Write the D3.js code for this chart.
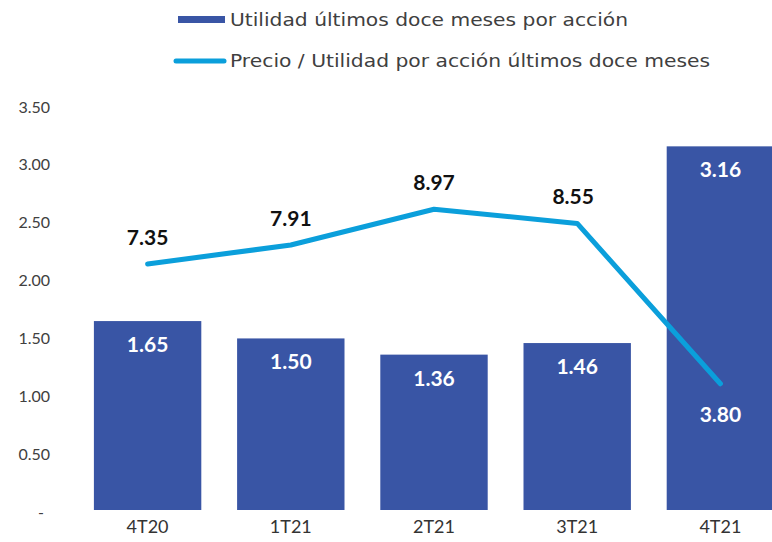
<!DOCTYPE html>
<html>
<head>
<meta charset="utf-8">
<script src="https://cdn.jsdelivr.net/npm/d3@7"></script>
<style>
  body { margin: 0; background: #fff; }
  svg { font-family: Lato, "Open Sans", sans-serif; display: block; }
</style>
</head>
<body>
<div id="chart"></div>
<script>
// data
var quarters = ["4T20", "1T21", "2T21", "3T21", "4T21"];
var utilidad = [1.65, 1.50, 1.36, 1.46, 3.16];
var precioUtilidad = [7.35, 7.91, 8.97, 8.55, 3.80];
var yTicks = [0, 0.5, 1, 1.5, 2, 2.5, 3, 3.5];
var legendLabels = ["Utilidad últimos doce meses por acción",
                    "Precio / Utilidad por acción últimos doce meses"];

var width = 772, height = 542;
var barColor = "#3955a5", lineColor = "#0b9fdb";

var svg = d3.select("#chart").append("svg")
    .attr("width", width)
    .attr("height", height);

var x = d3.scaleBand()
    .domain(quarters)
    .range([76, 792])
    .paddingInner(0.25)
    .paddingOuter(0.125);

var y = d3.scaleLinear().domain([0, 3.5]).range([512, 107]);
// secondary axis is hidden, same pixel range
var y2 = d3.scaleLinear().domain([0, 12]).range([512, 107]);

// left axis, no line, no ticks
var yAxis = d3.axisLeft(y)
    .tickValues(yTicks)
    .tickSize(0)
    .tickPadding(0)
    .tickFormat(function(d) { return d === 0 ? "-" : d3.format(".2f")(d); });

var gy = svg.append("g")
    .attr("transform", "translate(50,0)")
    .call(yAxis);
gy.select(".domain").remove();
gy.selectAll("text")
    .attr("font-size", 16)
    .attr("fill", "#404040")
    .attr("font-family", "Lato, sans-serif")
    .attr("dx", function(d) { return d === 0 ? -6 : 0; });

// bars
svg.selectAll("rect.bar")
    .data(quarters)
    .enter().append("rect")
    .attr("class", "bar")
    .attr("x", function(d) { return x(d); })
    .attr("y", function(d, i) { return y(utilidad[i]); })
    .attr("width", x.bandwidth())
    .attr("height", function(d, i) { return y(0) - y(utilidad[i]) - 2; })
    .attr("fill", barColor);

// bar labels
svg.selectAll("text.barLabel")
    .data(quarters)
    .enter().append("text")
    .attr("class", "barLabel")
    .attr("x", function(d) { return x(d) + x.bandwidth() / 2; })
    .attr("y", function(d, i) { return y(utilidad[i]) + 31; })
    .attr("text-anchor", "middle")
    .attr("font-size", 21)
    .attr("font-weight", "bold")
    .attr("fill", "#fff")
    .text(function(d, i) { return utilidad[i].toFixed(2); });

// line
var line = d3.line()
    .x(function(d, i) { return x(quarters[i]) + x.bandwidth() / 2; })
    .y(function(d) { return y2(d); });

svg.append("path")
    .datum(precioUtilidad)
    .attr("d", line)
    .attr("fill", "none")
    .attr("stroke", lineColor)
    .attr("stroke-width", 5)
    .attr("stroke-linecap", "round")
    .attr("stroke-linejoin", "round");

// line labels - last one sits below the point, in white over the bar
svg.selectAll("text.lineLabel")
    .data(precioUtilidad)
    .enter().append("text")
    .attr("class", "lineLabel")
    .attr("x", function(d, i) { return x(quarters[i]) + x.bandwidth() / 2 - (i == 3 ? 4 : 0); })
    .attr("y", function(d, i) { return i == 4 ? y2(d) + 38 : y2(d) - 19; })
    .attr("text-anchor", "middle")
    .attr("font-size", 21)
    .attr("font-weight", "bold")
    .attr("fill", function(d, i) { return i == 4 ? "#fff" : "#111"; })
    .text(function(d) { return d.toFixed(2); });

// x labels
svg.selectAll("text.xLabel")
    .data(quarters)
    .enter().append("text")
    .attr("class", "xLabel")
    .attr("x", function(d) { return x(d) + x.bandwidth() / 2; })
    .attr("y", 533)
    .attr("text-anchor", "middle")
    .attr("font-size", 18)
    .attr("fill", "#333")
    .text(function(d) { return d; });

// legend
var legend = svg.append("g");
legend.append("rect")
    .attr("x", 178).attr("y", 16)
    .attr("width", 47).attr("height", 7)
    .attr("fill", barColor);
legend.append("line")
    .attr("x1", 176).attr("x2", 224)
    .attr("y1", 61).attr("y2", 61)
    .attr("stroke", lineColor)
    .attr("stroke-width", 5)
    .attr("stroke-linecap", "round");
var legendWidths = [398, 480];
legend.selectAll("text")
    .data(legendLabels)
    .enter().append("text")
    .attr("x", 230)
    .attr("y", function(d, i) { return 26 + i * 41; })
    .attr("font-size", 18)
    .attr("font-family", "'DejaVu Sans', sans-serif")
    .attr("fill", "#404040")
    .attr("textLength", function(d, i) { return legendWidths[i]; })
    .attr("lengthAdjust", "spacingAndGlyphs")
    .text(function(d) { return d; });
</script>
</body>
</html>
